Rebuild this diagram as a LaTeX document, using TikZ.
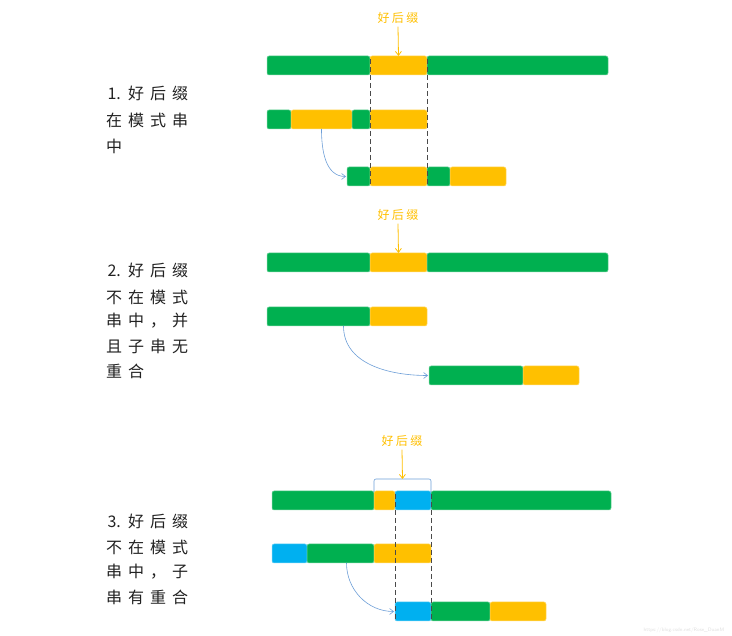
\documentclass[tikz,border=0pt]{standalone}
\usepackage{fontspec}
\newfontfamily\cjk{Noto Sans CJK SC}
\usetikzlibrary{arrows.meta}
\definecolor{sgreen}{HTML}{00B050}
\definecolor{syellow}{HTML}{FFC000}
\definecolor{sblue}{HTML}{00B0F0}
\definecolor{sarrow}{HTML}{6E9FD8}
\definecolor{stext}{HTML}{222222}
\definecolor{sguide}{HTML}{4A4A4A}
\newcommand\segm[6]{%
  \pgfmathsetmacro\segw{#4-#3}\pgfmathsetmacro\segh{#6-#5}%
  \node[segbox,fill=#2,draw=#2!55!white,minimum width=\segw pt,minimum height=\segh pt,anchor=north west] (#1) at (#3,#5) {};}
\newcommand\cc[1]{\makebox[22pt][c]{#1}}
\newcommand\tc[1]{\makebox[14.5pt][c]{#1}}
\tikzset{
  segbox/.style={rectangle,rounded corners=2pt,inner sep=0pt,outer sep=0pt,line width=0.5pt},
  guide/.style={draw=sguide,line width=1pt,dash pattern=on 5pt off 3pt},
  jump/.style={draw=sarrow,line width=0.6pt,-{Straight Barb[length=4pt,width=6pt]}},
  pointer/.style={draw=syellow,line width=0.8pt,-{Straight Barb[length=4pt,width=6pt]}},
  tag/.style={font=\cjk\fontsize{12}{14}\selectfont,text=syellow,inner sep=0pt},
  desc/.style={font=\cjk\fontsize{16}{18}\selectfont,text=stext,inner sep=0pt,anchor=west},
  brace/.style={draw=sarrow,line width=0.6pt,rounded corners=2pt}
}
\begin{document}
\begin{tikzpicture}[x=1pt,y=-1pt]
\useasboundingbox[fill=white] (0,0) rectangle (732,636);

% ---------- Section 1 ----------
\node[desc] (t1a) at (103,93) {\cc{1.}\cc{好}\cc{后}\cc{缀}};
\node[desc] (t1b) at (103,120) {\cc{在}\cc{模}\cc{式}\cc{串}};
\node[desc] (t1c) at (103,146) {\cc{中}};

\segm{a1}{sgreen}{267}{370}{56}{75}
\segm{a2}{syellow}{370}{427}{56}{75}
\segm{a3}{sgreen}{427}{608}{56}{75}

\segm{b1}{sgreen}{267}{291}{110}{129}
\segm{b2}{syellow}{291}{352}{110}{129}
\segm{b3}{sgreen}{352}{370}{110}{129}
\segm{b4}{syellow}{370}{427}{110}{129}

\segm{c1}{sgreen}{347}{370}{167}{186}
\segm{c2}{syellow}{370}{427}{167}{186}
\segm{c3}{sgreen}{427}{450}{167}{186}
\segm{c4}{syellow}{450}{506}{167}{186}

\node[tag] (l1) at (398,18) {\tc{好}\tc{后}\tc{缀}};
\draw[pointer] ([yshift=-3pt]l1.south) -- (a2.north);
\draw[guide] ([yshift=-3pt]a2.north west) -- ([yshift=1pt]c2.south west);
\draw[guide] ([yshift=-3pt]a2.north east) -- ([yshift=1pt]c2.south east);
\draw[jump] (b2.south) to[out=-90,in=180] ([xshift=-1pt]c1.west);

% ---------- Section 2 ----------
\node[desc] (t2a) at (103,270) {\cc{2.}\cc{好}\cc{后}\cc{缀}};
\node[desc] (t2b) at (103,297) {\cc{不}\cc{在}\cc{模}\cc{式}};
\node[desc] (t2c) at (103,321) {\cc{串}\cc{中}\cc{，}\cc{并}};
\node[desc] (t2d) at (103,346) {\cc{且}\cc{子}\cc{串}\cc{无}};
\node[desc] (t2e) at (103,371) {\cc{重}\cc{合}};

\segm{d1}{sgreen}{267}{370}{253}{272}
\segm{d2}{syellow}{370}{427}{253}{272}
\segm{d3}{sgreen}{427}{608}{253}{272}

\segm{e1}{sgreen}{267}{370}{307}{326}
\segm{e2}{syellow}{370}{427}{307}{326}

\segm{f1}{sgreen}{429}{523}{366}{385}
\segm{f2}{syellow}{523}{579}{366}{385}

\node[tag] (l2) at (398,215) {\tc{好}\tc{后}\tc{缀}};
\draw[pointer] ([yshift=-3pt]l2.south) -- (d2.north);
\coordinate (e1s) at ([xshift=25pt]e1.south);
\draw[jump] (e1s) to[out=-90,in=180] ([xshift=-1pt]f1.west);

% ---------- Section 3 ----------
\node[desc] (t3a) at (103,521) {\cc{3.}\cc{好}\cc{后}\cc{缀}};
\node[desc] (t3b) at (103,547) {\cc{不}\cc{在}\cc{模}\cc{式}};
\node[desc] (t3c) at (103,572) {\cc{串}\cc{中}\cc{，}\cc{子}};
\node[desc] (t3d) at (103,597) {\cc{串}\cc{有}\cc{重}\cc{合}};

\segm{g1}{sgreen}{272}{374}{491}{510}
\segm{g2}{syellow}{374}{395}{491}{510}
\segm{g3}{sblue}{395}{431}{491}{510}
\segm{g4}{sgreen}{431}{611}{491}{510}

\segm{h1}{sblue}{272}{307}{544}{563}
\segm{h2}{sgreen}{307}{374}{544}{563}
\segm{h3}{syellow}{374}{431}{544}{563}

\segm{k1}{sblue}{395}{431}{602}{621}
\segm{k2}{sgreen}{431}{490}{602}{621}
\segm{k3}{syellow}{490}{546}{602}{621}

\coordinate (bl) at ([yshift=-1pt]g2.north west);
\coordinate (br) at ([yshift=-1pt]g3.north east);
\coordinate (bt) at (402.5,479);
\draw[brace] (bl) |- (bt) -| (br);
\node[tag] (l3) at (402,441) {\tc{好}\tc{后}\tc{缀}};
\draw[pointer] ([yshift=-3pt]l3.south) -- (bt);
\draw[guide] ([yshift=-3pt]g3.north west) -- ([yshift=1pt]k1.south west);
\draw[guide] ([yshift=-3pt]g3.north east) -- ([yshift=1pt]k1.south east);
\coordinate (h2s) at ([xshift=6pt]h2.south);
\draw[jump] (h2s) to[out=-90,in=180] ([xshift=-1pt]k1.west);

\node[font=\sffamily\fontsize{5}{6}\selectfont,text=black!12,inner sep=0pt] (wm) at (684,630) {https://blog.csdn.net/Rose\_DuanM};
\end{tikzpicture}
\end{document}
